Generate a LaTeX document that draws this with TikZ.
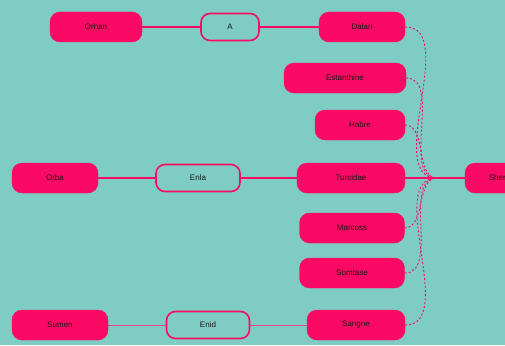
\documentclass[tikz,border=0pt]{standalone}
\usepackage{fontspec}
\setmainfont{Liberation Sans}
\definecolor{bg}{HTML}{7FCCC4}
\definecolor{pk}{HTML}{FA0A64}
\definecolor{pkl}{HTML}{E2488C}
\begin{document}
\begin{tikzpicture}[x=1pt,y=-1pt,
  fbox/.style={draw=pk, fill=pk, rounded corners=10pt, minimum height=30pt, inner sep=0pt, font=\fontsize{8}{9}\selectfont, text=black!90},
  obox/.style={draw=pk, line width=1.6pt, fill=bg, rounded corners=9pt, minimum height=27pt, inner sep=0pt, font=\fontsize{8}{9}\selectfont, text=black!90},
  link/.style={draw=pk, line width=1.1pt},
  linkl/.style={draw=pkl, line width=1pt},
  dlink/.style={draw=pk, line width=0.9pt, dash pattern=on 2pt off 2pt}]
\useasboundingbox[fill=bg] (0,0) rectangle (505,345);
\clip (0,0) rectangle (505,345);
% row 1
\node[fbox, minimum width=92pt] (orhan) at (96,27) {Orhan};
\node[obox, minimum width=58pt] (a) at (230,27) {A};
\node[fbox, minimum width=86pt] (dalan) at (362,27) {Dalan};
% right column
\node[fbox, minimum width=122pt] (est) at (345,78) {Estanthine};
\node[fbox, minimum width=90pt] (hab) at (360,125) {Habre};
\node[fbox, minimum width=108pt] (tur) at (351,178) {Turcidae};
\node[fbox, minimum width=105pt] (mar) at (352,228) {Marcoss};
\node[fbox, minimum width=105pt] (som) at (352,273) {Somtase};
\node[fbox, minimum width=98pt] (san) at (356,325) {Sangne};
% row 2
\node[fbox, minimum width=86pt] (orba) at (55,178) {Orba};
\node[obox, minimum width=84pt] (enla) at (198,178) {Enla};
% row 3
\node[fbox, minimum width=96pt] (sumen) at (60,325) {Sumen};
\node[obox, minimum width=83pt] (enid) at (208,325) {Enid};
% target
\node[fbox, minimum width=80pt] (sh) at (505,178) {Sheraton};
\coordinate (j) at (437,178);
% links
\draw[link] (orhan) -- (a);
\draw[link] (a) -- (dalan);
\draw[link] (orba) -- (enla);
\draw[link] (enla) -- (tur);
\draw[linkl] (sumen) -- (enid);
\draw[linkl] (enid) -- (san);
\draw[link] (tur) -- (j) -- (sh);
\foreach \n in {dalan,est,hab,mar,som,san}
  \draw[dlink] (\n.east) to[out=0,in=180,looseness=0.9] (j);
\end{tikzpicture}
\end{document}
